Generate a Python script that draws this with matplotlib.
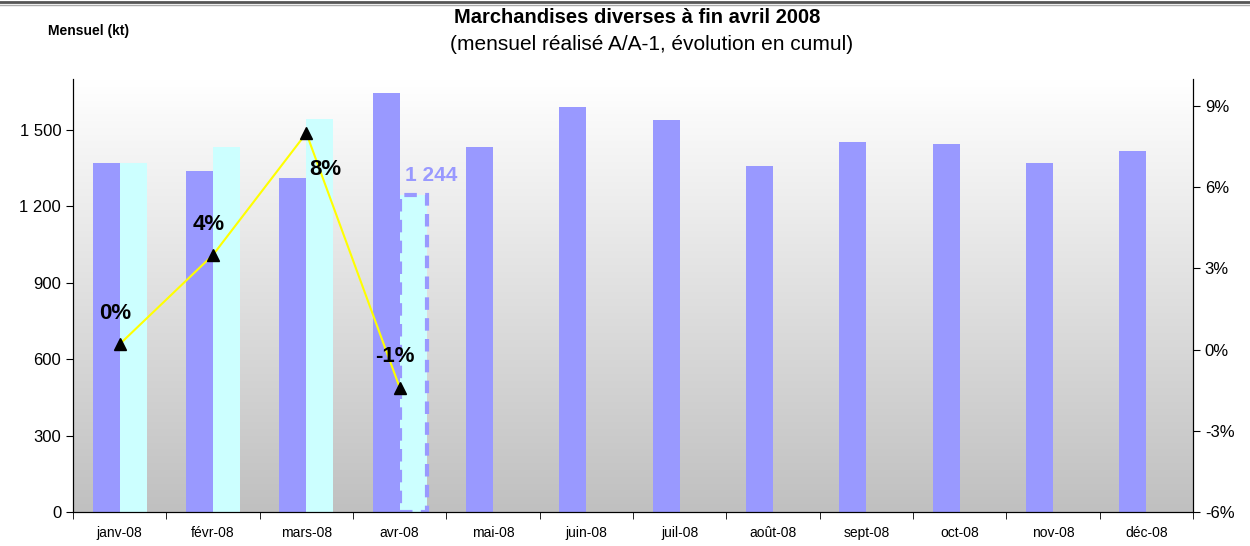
import numpy as np
import matplotlib.pyplot as plt
from matplotlib.lines import Line2D
from matplotlib.ticker import FuncFormatter

plt.rcParams['font.family'] = ['Liberation Sans', 'DejaVu Sans']

months = ['janv-08', 'févr-08', 'mars-08', 'avr-08', 'mai-08', 'juin-08',
          'juil-08', 'août-08', 'sept-08', 'oct-08', 'nov-08', 'déc-08']
mensuel_2007 = [1370, 1339, 1311, 1645, 1433, 1590, 1539, 1358, 1453, 1445, 1370, 1417]
mensuel_2008 = [1370, 1433, 1543, 1244]
cumul_pct = [0.2, 3.5, 8.0, -1.4]
cumul_labels = ['0%', '4%', '8%', '-1%']

purple = '#9999ff'
cyan = '#ccffff'

fig = plt.figure(figsize=(12.5, 5.46), dpi=100)
ax = fig.add_axes([0.0584, 0.0623, 0.896, 0.793])

# fond dégradé
grad = np.linspace(1, 0, 256).reshape(-1, 1)
ax.imshow(grad, extent=[0, 1, 0, 1], transform=ax.transAxes, aspect='auto',
          cmap=plt.matplotlib.colors.LinearSegmentedColormap.from_list('g', ['#c0c0c0', '#ffffff']),
          zorder=0)

x = np.arange(len(months))
w = 0.29
ax.bar(x - w / 2, mensuel_2007, w, color=purple, zorder=2)
x8 = x[:len(mensuel_2008)]
ax.bar(x8[:3] + w / 2, mensuel_2008[:3], w, color=cyan, zorder=2)
# mois en cours : bordure pointillée
ax.bar(x8[3] + w / 2, mensuel_2008[3], w, color=cyan, edgecolor=purple,
       linewidth=3, linestyle=(0, (3, 2)), zorder=2)
ax.text(x8[3] + 0.06, mensuel_2008[3] + 40, '1 244', color=purple,
        fontsize=15, fontweight='bold', ha='left', va='bottom', zorder=5)

ax.set_xlim(-0.5, len(months) - 0.5)
ax.set_ylim(0, 1700)
ax.set_yticks(range(0, 1501, 300))
ax.yaxis.set_major_formatter(FuncFormatter(lambda v, p: f'{int(v):,}'.replace(',', ' ')))
ax.set_xticks(x)
ax.set_xticklabels(months, fontsize=10)
ax.set_xticks(np.arange(-0.5, len(months)), minor=True)
ax.tick_params(axis='x', which='major', length=0, pad=10)
ax.tick_params(axis='x', which='minor', length=5, direction='out')
ax.tick_params(axis='y', labelsize=12, length=5)
ax.spines['top'].set_visible(False)

ax2 = ax.twinx()
ax2.set_ylim(-6, 10)
ax2.set_yticks(range(-6, 10, 3))
ax2.yaxis.set_major_formatter(FuncFormatter(lambda v, p: f'{int(v)}%'))
ax2.tick_params(axis='y', labelsize=12, length=5)
ax2.spines['top'].set_visible(False)
ax2.plot(x8, cumul_pct, color='#ffff00', linewidth=1.5, marker='^',
         markersize=8, markerfacecolor='black', markeredgecolor='black', zorder=4)
offsets = [(-0.05, 0.75), (-0.05, 0.75), (0.2, -1.75), (-0.05, 0.75)]
for xi, yi, lab, (dx, dy) in zip(x8, cumul_pct, cumul_labels, offsets):
    ax2.text(xi + dx, yi + dy, lab, fontsize=16, fontweight='bold',
             ha='center', va='bottom', zorder=5)

fig.text(0.51, 0.968, 'Marchandises diverses à fin avril 2008', ha='center',
         va='center', fontsize=14.5, fontweight='bold')
fig.text(0.521, 0.918, '(mensuel réalisé A/A-1, évolution en cumul)', ha='center',
         va='center', fontsize=15)
fig.text(0.038, 0.943, 'Mensuel (kt)', ha='left', va='center', fontsize=10,
         fontweight='bold')

fig.add_artist(Line2D([0, 1], [0.997, 0.997], color='#555555', linewidth=2))
fig.add_artist(Line2D([0, 1], [0.991, 0.991], color='#aaaaaa', linewidth=1))

fig.savefig('out.png', dpi=100)
